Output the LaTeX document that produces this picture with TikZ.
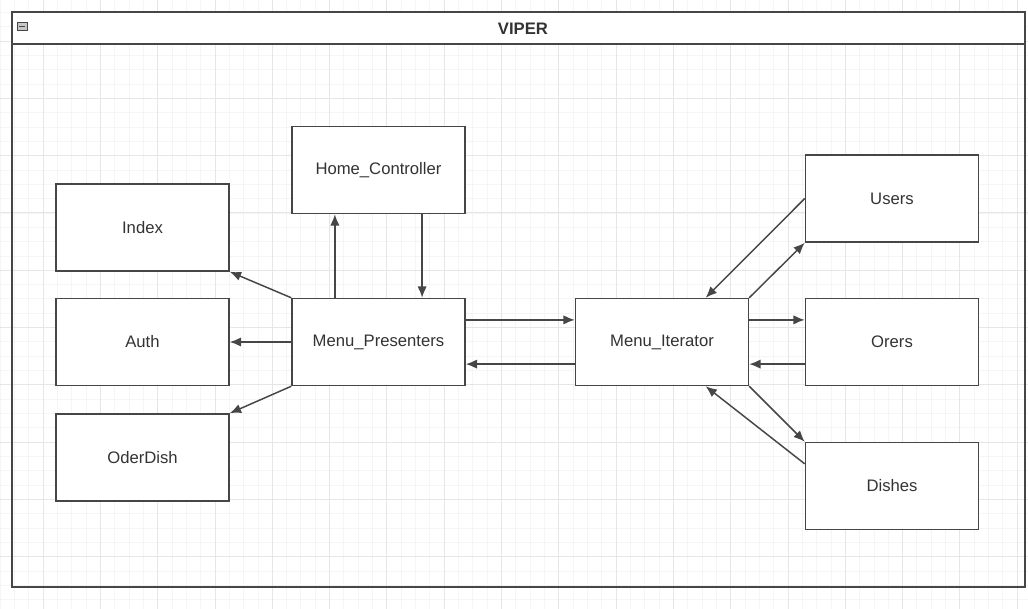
\documentclass[tikz,border=0pt]{standalone}
\usepackage{fontspec}
\setmainfont{Liberation Sans}
\usetikzlibrary{calc,arrows.meta,positioning}
\definecolor{mygray}{RGB}{70,70,70}
\definecolor{mytext}{RGB}{51,51,51}
\definecolor{gridminor}{RGB}{245,245,245}
\definecolor{gridmajor}{RGB}{230,230,230}
\tikzstyle{block}=[draw=mygray,fill=white,rectangle,line width=1.1pt,minimum width=129.75pt,minimum height=65.25pt,inner sep=0pt,text=mytext,font=\fontsize{12.5}{15}\selectfont]
\tikzstyle{link}=[draw=mygray,line width=1.1pt,-{Latex[length=8.5pt,width=7pt]}]

\begin{document}
\begin{tikzpicture}[x=0.75pt,y=-0.75pt]
\useasboundingbox (0,0) rectangle (1028,609);
\fill[white] (0,0) rectangle (1028,609);
% background grid
\foreach \i in {0,...,71} {
  \draw[gridminor,line width=0.5pt] ({\i*14.325},0) -- ({\i*14.325},609);
}
\foreach \i in {0,...,43} {
  \draw[gridminor,line width=0.5pt] (0,{\i*14.325-2}) -- (1028,{\i*14.325-2});
}
\foreach \i in {0,...,17} {
  \draw[gridmajor,line width=0.6pt] ({\i*57.3+43},0) -- ({\i*57.3+43},609);
}
\foreach \i in {0,...,10} {
  \draw[gridmajor,line width=0.6pt] (0,{\i*57.3+41}) -- (1028,{\i*57.3+41});
}
% container
\fill[white] (12,12) rectangle (1025,44);
\draw[mygray,line width=1.5pt] (12,12) rectangle (1025,587);
\draw[mygray,line width=1.5pt] (12,44) -- (1025,44);
\draw[mygray,fill=gray!45,line width=0.5pt] (17,22) rectangle (27,30);
\draw[mygray,line width=0.6pt] (19,26) -- (25,26);
\node[text=mytext,font=\bfseries\fontsize{12.5}{15}\selectfont] (title) at (523,29) {VIPER};
% boxes
\draw (142.5,227.5) node [block] (index) {Index};
\draw (142.5,342) node [block] (auth) {Auth};
\draw (142.5,457.5) node [block] (oderdish) {OderDish};
\draw (378.5,170) node [block] (home) {Home\_Controller};
\draw (378.5,342) node [block] (presenters) {Menu\_Presenters};
\draw (662,342) node [block] (iterator) {Menu\_Iterator};
\draw (892,198.5) node [block] (users) {Users};
\draw (892,342) node [block] (orers) {Orers};
\draw (892,486) node [block] (dishes) {Dishes};
% arrows
\draw[link] (presenters.north west) -- (index.south east);
\draw[link] (presenters.west) -- (auth.east);
\draw[link] (presenters.south west) -- (oderdish.north east);
\draw[link] ($(presenters.north west)!0.25!(presenters.north east)$) -- ($(home.south west)!0.25!(home.south east)$);
\draw[link] ($(home.south west)!0.75!(home.south east)$) -- ($(presenters.north west)!0.75!(presenters.north east)$);
\draw[link] ($(presenters.north east)!0.25!(presenters.south east)$) -- ($(iterator.north west)!0.25!(iterator.south west)$);
\draw[link] ($(iterator.north west)!0.75!(iterator.south west)$) -- ($(presenters.north east)!0.75!(presenters.south east)$);
\draw[link] (users.west) -- ($(iterator.north west)!0.75!(iterator.north east)$);
\draw[link] (iterator.north east) -- (users.south west);
\draw[link] ($(iterator.north east)!0.25!(iterator.south east)$) -- ($(orers.north west)!0.25!(orers.south west)$);
\draw[link] ($(orers.north west)!0.75!(orers.south west)$) -- ($(iterator.north east)!0.75!(iterator.south east)$);
\draw[link] (iterator.south east) -- (dishes.north west);
\draw[link] ($(dishes.north west)!0.25!(dishes.south west)$) -- ($(iterator.south west)!0.75!(iterator.south east)$);
\end{tikzpicture}
\end{document}
